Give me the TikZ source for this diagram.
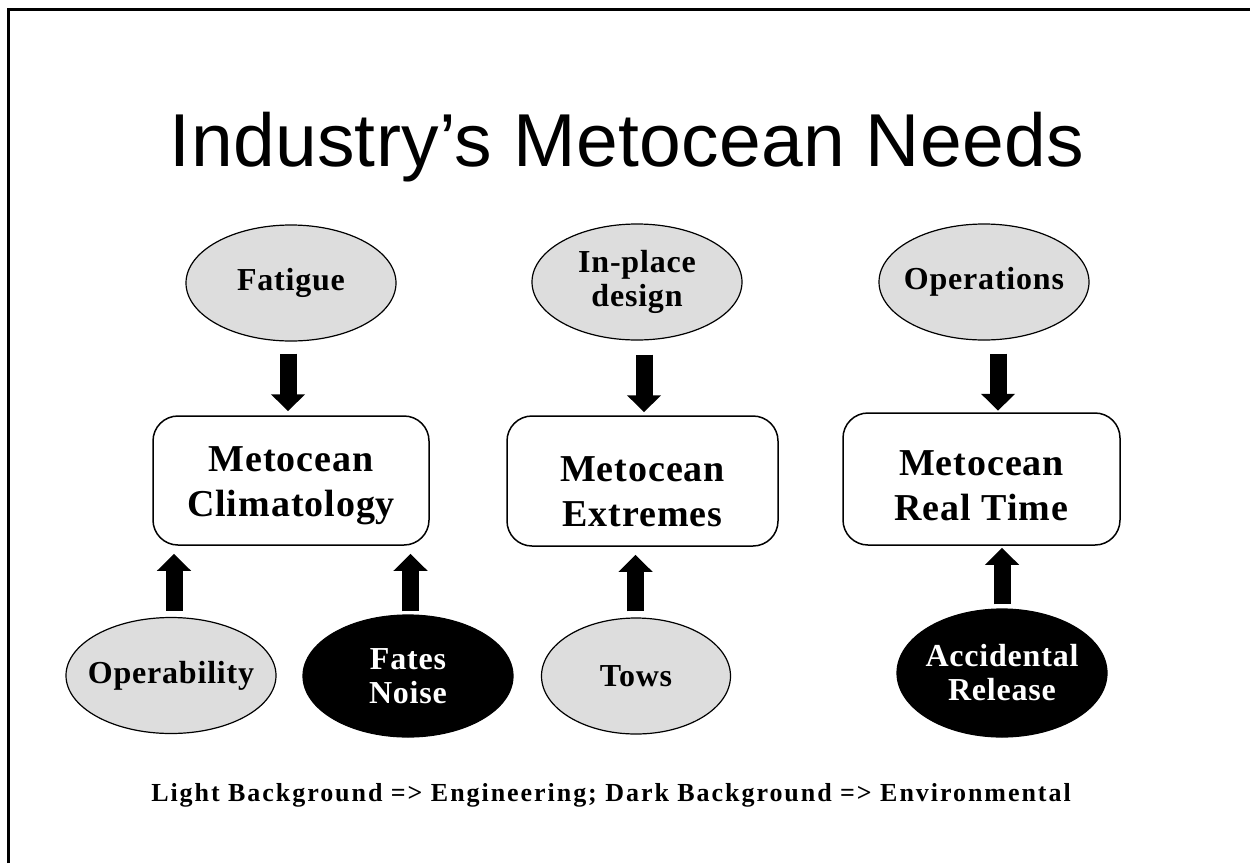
\documentclass[tikz,border=0pt]{standalone}
\usepackage{fontspec}
\setmainfont{Liberation Serif}
\newfontfamily\titlefont[LetterSpace=0.4]{Liberation Sans}
\newfontfamily\labfont[LetterSpace=2.5]{Liberation Serif}
\newfontfamily\notefont[LetterSpace=7.5]{Liberation Serif}
\usetikzlibrary{shapes.geometric,arrows.meta,calc}
\definecolor{ovalgray}{RGB}{221,221,221}
\begin{document}
\begin{tikzpicture}[x=1pt,y=-1pt,
  oval/.style={ellipse,draw=black,line width=1.2pt,fill=ovalgray,inner xsep=-30pt,inner ysep=0pt,
    minimum width=210pt,minimum height=116pt,align=center,
    font=\labfont\bfseries\fontsize{32}{34}\selectfont},
  darkoval/.style={oval,fill=black,text=white,minimum height=122pt},
  mbox/.style={rectangle,rounded corners=25pt,draw=black,line width=1.5pt,fill=white,
    inner sep=0pt,minimum width=276pt,minimum height=129pt},
  boxtext/.style={inner sep=0pt,align=center,font=\labfont\bfseries\fontsize{38}{45}\selectfont},
  blk/.style={line width=17pt,-{Triangle[width=33pt,length=17pt]}}
]
\useasboundingbox (0,0) rectangle (1250,863);
\fill[white] (0,0) rectangle (1250,863);
\draw[line width=3pt] (8.5,863) -- (8.5,9.5) -- (1250,9.5);

\node[anchor=base,font=\titlefont\fontsize{75}{90}\selectfont] (title) at (627,166) {Industry’s Metocean Needs};

\node[oval] (fat) at (291,283) {Fatigue};
\node[oval] (inp) at (637,282) {In-place\\design};
\node[oval] (ops) at (984,282) {Operations};

\node[mbox,label={[boxtext,yshift=-5pt]center:{Metocean\\Climatology}}] (clim) at (291,480.5) {};
\node[mbox,minimum width=271pt,minimum height=130pt,
  label={[boxtext,yshift=-11pt]center:{Metocean\\Extremes}}] (ext) at (642.5,481) {};
\node[mbox,minimum width=277pt,minimum height=132pt,
  label={[boxtext,yshift=-7pt]center:{Metocean\\Real Time}}] (rt) at (981.5,479) {};

\node[oval] (opb) at (171,675.5) {Operability};
\node[darkoval] (fn) at (408,676) {Fates\\Noise};
\node[oval,minimum width=189pt] (tows) at (636,676) {Tows};
\node[darkoval,minimum height=128pt] (acc) at (1002,673) {Accidental\\Release};

\node[anchor=base,font=\notefont\bfseries\fontsize{26}{30}\selectfont] (note) at (611,801)
  {Light Background => Engineering; Dark Background => Environmental};

\draw[blk] ($(fat.south)+(-3,12)$) -- ($(clim.north)+(-3,-4)$);
\draw[blk] ($(inp.south)+(7,14)$) -- ($(ext.north)+(1.5,-3)$);
\draw[blk] ($(ops.south)+(14,13)$) -- ($(rt.north)+(16.5,-1.5)$);
\draw[blk] ($(opb.north)+(3,-6)$) -- ($(opb.north |- clim.south)+(3,8)$);
\draw[blk] ($(fn.north)+(2.5,-3)$) -- ($(fn.north |- clim.south)+(2.5,8)$);
\draw[blk] ($(tows.north)+(-0.5,-6)$) -- ($(tows.north |- ext.south)+(-0.5,8)$);
\draw[blk] ($(acc.north)+(0,-4)$) -- ($(acc.north |- rt.south)+(0,2)$);
\end{tikzpicture}
\end{document}
